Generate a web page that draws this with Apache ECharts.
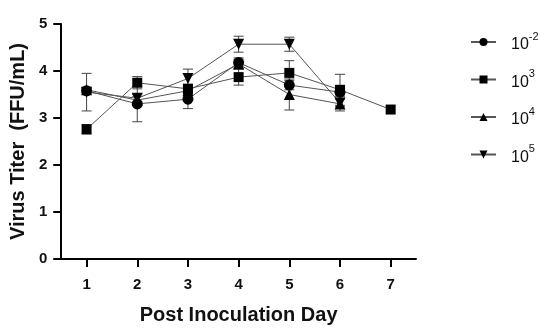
<!DOCTYPE html>
<html>
<head>
<meta charset="utf-8">
<script src="https://cdn.jsdelivr.net/npm/echarts@6/dist/echarts.min.js"></script>
<style>html,body{margin:0;padding:0;background:#fff}#c{width:550px;height:332px}</style>
</head>
<body>
<div id="c"></div>
<script>
var days = ['1', '2', '3', '4', '5', '6', '7'];
var seriesNames = ['10^-2', '10^3', '10^4', '10^5'];
var valsA = [3.58, 3.30, 3.40, 4.18, 3.70, 3.55];
var errA  = [0.05, 0.38, 0.20, 0.10, 0.10, 0.08];
var valsB = [2.76, 3.75, 3.62, 3.87, 3.96, 3.60, 3.18];
var errB  = [0.10, 0.13, 0.10, 0.17, 0.26, 0.33, 0];
var valsC = [3.60, 3.38, 3.58, 4.15, 3.50, 3.30];
var errC  = [0.05, 0.08, 0.08, 0.10, 0.33, 0.15];
var valsD = [3.55, 3.42, 3.84, 4.57, 4.57, 3.32];
var errD  = [0.40, 0.08, 0.20, 0.17, 0.15, 0.08];
var yTicks = [0, 1, 2, 3, 4, 5];

var invTri = 'path://M0,0 L10,0 L5,9 Z';
var symbols = ['circle', 'rect', 'triangle', invTri];
var allVals = [valsA, valsB, valsC, valsD];
var allErr = [errA, errB, errC, errD];

function errData(v, e) { return v.map(function (y, i) { return [i, y, e[i]]; }); }

var series = [];
allVals.forEach(function (v, k) {
  series.push({
    type: 'custom',
    name: seriesNames[k] + '_err',
    data: errData(v, allErr[k]),
    z: 1,
    silent: true,
    renderItem: function (params, api) {
      var x = api.value(0), y = api.value(1), e = api.value(2);
      if (!e) return null;
      var top = api.coord([x, y + e]);
      var bot = api.coord([x, y - e]);
      var hw = 5;
      var st = { stroke: '#444', lineWidth: 1 };
      return {
        type: 'group',
        children: [
          { type: 'line', shape: { x1: top[0], y1: top[1], x2: bot[0], y2: bot[1] }, style: st },
          { type: 'line', shape: { x1: top[0] - hw, y1: top[1], x2: top[0] + hw, y2: top[1] }, style: st },
          { type: 'line', shape: { x1: bot[0] - hw, y1: bot[1], x2: bot[0] + hw, y2: bot[1] }, style: st }
        ]
      };
    }
  });
  series.push({
    type: 'line',
    name: seriesNames[k],
    data: v,
    symbol: symbols[k],
    symbolSize: k === 0 ? 11 : (k === 1 ? 10 : 11),
    showAllSymbol: true,
    z: 3,
    lineStyle: { color: '#555', width: 1 },
    itemStyle: { color: '#000', borderWidth: 0 },
    emphasis: { disabled: true }
  });
});

var chart = echarts.init(document.getElementById('c'));
chart.setOption({
  animation: false,
  backgroundColor: '#fff',
  grid: { left: 61, right: 134, top: 24, bottom: 73 },
  xAxis: {
    type: 'category', data: days, boundaryGap: true,
    name: 'Post Inoculation Day', nameLocation: 'middle', nameGap: 46,
    nameTextStyle: { fontFamily: 'Liberation Sans', fontWeight: 'bold', fontSize: 20, color: '#111' },
    axisLine: { lineStyle: { color: '#000', width: 2 } },
    axisTick: { show: true, alignWithLabel: true, length: 8, lineStyle: { color: '#000', width: 2 } },
    axisLabel: { fontFamily: 'Liberation Sans', fontWeight: 'bold', fontSize: 15, color: '#111', margin: 18 },
    splitLine: { show: false }
  },
  yAxis: {
    type: 'value', min: yTicks[0], max: yTicks[yTicks.length - 1], interval: 1,
    name: 'Virus Titer  (FFU/mL)', nameLocation: 'middle', nameGap: 29,
    nameTextStyle: { fontFamily: 'Liberation Sans', fontWeight: 'bold', fontSize: 20, color: '#111' },
    axisLine: { show: true, lineStyle: { color: '#000', width: 2 } },
    axisTick: { show: true, length: 8, lineStyle: { color: '#000', width: 2 } },
    axisLabel: { fontFamily: 'Liberation Sans', fontWeight: 'bold', fontSize: 15, color: '#111', margin: 14 },
    splitLine: { show: false }
  },
  legend: {
    data: seriesNames,
    orient: 'vertical',
    left: 470, top: 31,
    padding: 0,
    itemGap: 15.5,
    itemWidth: 25, itemHeight: 10,
    textStyle: {
      fontFamily: 'Liberation Sans', fontSize: 16, color: '#111',
      rich: {
        b: { fontFamily: 'Liberation Sans', fontSize: 16, color: '#111', lineHeight: 22, verticalAlign: 'bottom', padding: [0, 0, 0, 10] },
        s: { fontFamily: 'Liberation Sans', fontSize: 11, color: '#111', lineHeight: 11, verticalAlign: 'top' }
      }
    },
    formatter: function (n) {
      var p = n.split('^');
      return '{b|' + p[0] + '}{s|' + p[1] + '}';
    }
  },
  series: series
});
</script>
</body>
</html>
